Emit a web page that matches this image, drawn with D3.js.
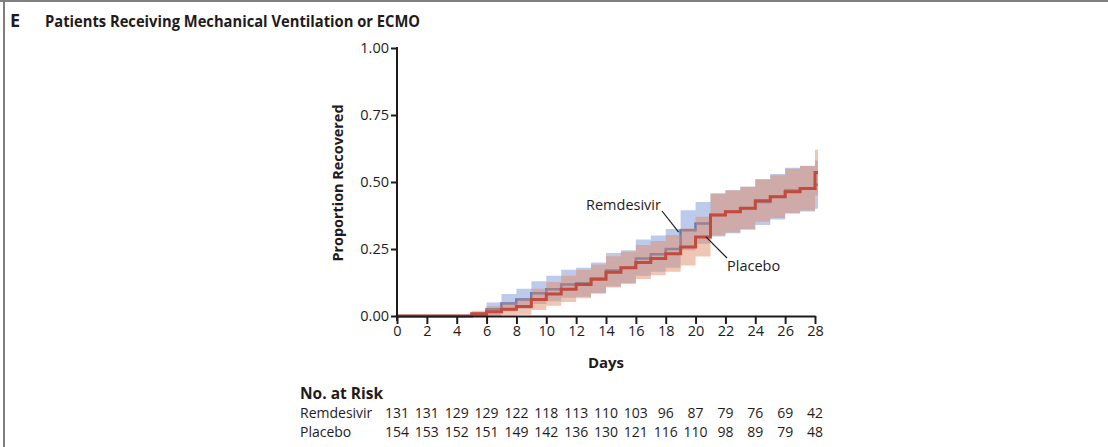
<!DOCTYPE html>
<html>
<head>
<meta charset="utf-8">
<script src="https://cdn.jsdelivr.net/npm/d3@7"></script>
<style>
  body { margin: 0; background: #fff; }
  text { font-family: "Open Sans", "Liberation Sans", Arial, sans-serif; fill: #1f1b1c; }
</style>
</head>
<body>
<div id="chart"></div>
<script>
// days of follow-up (steps start at each day)
const days = d3.range(0, 29);
const xTicks = d3.range(0, 29, 2);
const yTicks = [0, 0.25, 0.5, 0.75, 1];

// placebo (red) estimate and confidence band
const placeboEst = [0,0,0,0,0,.008,.016,.025,.035,.062,.082,.10,.118,.137,.163,.18,.20,.215,.232,.257,.295,.377,.389,.402,.43,.445,.464,.476,.535];
const placeboLo  = [0,0,0,0,0,0,0,.003,.005,.022,.038,.052,.066,.084,.106,.122,.138,.152,.165,.188,.222,.3,.312,.325,.352,.366,.382,.394,.45];
const placeboHi  = [0,0,0,0,0,.02,.036,.05,.065,.102,.127,.15,.173,.192,.223,.24,.265,.28,.302,.327,.37,.457,.469,.482,.51,.525,.549,.561,.62];

// remdesivir (blue) estimate and confidence band
const remdEst = [0,0,0,0,0,.005,.025,.047,.062,.085,.10,.118,.122,.14,.17,.18,.215,.23,.25,.32,.345,.377,.389,.402,.425,.445,.468,.475,.49];
const remdLo  = [0,0,0,0,0,0,.003,.017,.027,.045,.055,.068,.072,.085,.11,.12,.15,.165,.18,.245,.27,.297,.309,.322,.34,.36,.383,.39,.40];
const remdHi  = [0,0,0,0,0,.015,.05,.082,.102,.13,.15,.173,.18,.2,.235,.245,.285,.3,.325,.395,.425,.457,.469,.482,.51,.53,.553,.56,.58];

// number at risk table
const riskDays = d3.range(0, 29, 2);
const riskRemd = [131,131,129,129,122,118,113,110,103,96,87,79,76,69,42];
const riskPlacebo = [154,153,152,151,149,142,136,130,121,116,110,98,89,79,48];

const width = 1108, height = 447;

const svg = d3.select("#chart").append("svg")
  .attr("width", width)
  .attr("height", height);

// panel frame (top and left rule)
svg.append("line").attr("x1", 0).attr("x2", width).attr("y1", 1).attr("y2", 1)
  .attr("stroke", "#7f7f7f").attr("stroke-width", 2);
svg.append("line").attr("x1", 4).attr("x2", 4).attr("y1", 0).attr("y2", height)
  .attr("stroke", "#7f7f7f").attr("stroke-width", 2);

// title
svg.append("text").attr("x", 10).attr("y", 27)
  .attr("font-size", 18).attr("font-weight", "bold").text("E");
svg.append("text").attr("x", 45).attr("y", 27)
  .attr("font-size", 16.5).attr("font-weight", "bold")
  .attr("textLength", 375).attr("lengthAdjust", "spacingAndGlyphs")
  .text("Patients Receiving Mechanical Ventilation or ECMO");

let x = d3.scaleLinear().domain([0, 28]).range([397, 815]);
let y = d3.scaleLinear().domain([0, 1]).range([316, 48]);

function series(vals) {
  let pts = days.map((d, i) => ({ d: d, v: vals[i] }));
  pts.push({ d: 28.2, v: vals[vals.length - 1] });
  return pts;
}
function band(lo, hi) {
  let pts = days.map((d, i) => ({ d: d, lo: lo[i], hi: hi[i] }));
  pts.push({ d: 28.2, lo: lo[lo.length - 1], hi: hi[hi.length - 1] });
  return pts;
}

let area = d3.area().curve(d3.curveStepAfter)
  .x(d => x(d.d)).y0(d => y(d.lo)).y1(d => y(d.hi));
let line = d3.line().curve(d3.curveStepAfter)
  .x(d => x(d.d)).y(d => y(d.v));

// remdesivir band + line, then placebo on top
svg.append("path").datum(band(remdLo, remdHi))
  .attr("d", area).attr("fill", "#9fb4e3").attr("fill-opacity", 0.7);
svg.append("path").datum(series(remdEst))
  .attr("d", line).attr("fill", "none").attr("stroke", "#5674bd").attr("stroke-width", 2.5);
svg.append("path").datum(band(placeboLo, placeboHi))
  .attr("d", area).attr("fill", "#e08c68").attr("fill-opacity", 0.5);
svg.append("path").datum(series(placeboEst))
  .attr("d", line).attr("fill", "none").attr("stroke", "#c44a3c").attr("stroke-width", 3);

// axes
let xAxis = d3.axisBottom(x).tickValues(xTicks).tickSize(8).tickSizeOuter(0).tickPadding(2);
let yAxis = d3.axisLeft(y).tickValues(yTicks).tickSize(6).tickSizeOuter(0).tickPadding(2)
  .tickFormat(d3.format(".2f"));

let gx = svg.append("g").attr("transform", "translate(0,316)").call(xAxis);
let gy = svg.append("g").attr("transform", "translate(397,0)").call(yAxis);
[gx, gy].forEach(g => {
  g.select(".domain").attr("stroke", "#1f1b1c").attr("stroke-width", 2);
  g.selectAll(".tick line").attr("stroke", "#1f1b1c").attr("stroke-width", 2);
  g.selectAll(".tick text").attr("font-size", 14.5).attr("fill", "#1f1b1c")
    .style("font-family", "'Open Sans', 'Liberation Sans', sans-serif");
});
gy.select(".domain").attr("d", "M0,47V321");

// axis titles
svg.append("text").attr("x", 606).attr("y", 368)
  .attr("text-anchor", "middle").attr("font-size", 15).attr("font-weight", "bold").text("Days");
svg.append("text").attr("transform", "translate(343,183) rotate(-90)")
  .attr("text-anchor", "middle").attr("font-size", 15).attr("font-weight", "bold")
  .attr("textLength", 157).attr("lengthAdjust", "spacingAndGlyphs")
  .text("Proportion Recovered");

// curve labels with leader lines
svg.append("text").attr("x", 586).attr("y", 210).attr("font-size", 14.5).text("Remdesivir");
svg.append("line").attr("x1", 662).attr("y1", 211).attr("x2", x(19) - 2).attr("y2", y(0.32) + 2)
  .attr("stroke", "#1f1b1c").attr("stroke-width", 1.2);
svg.append("text").attr("x", 727).attr("y", 271).attr("font-size", 14.5).text("Placebo");
svg.append("line").attr("x1", x(20.7)).attr("y1", y(0.295)).attr("x2", 727).attr("y2", 258)
  .attr("stroke", "#1f1b1c").attr("stroke-width", 1.2);

// number at risk
svg.append("text").attr("x", 300).attr("y", 399)
  .attr("font-size", 15.5).attr("font-weight", "bold").text("No. at Risk");
svg.append("text").attr("x", 300).attr("y", 418).attr("font-size", 14).text("Remdesivir");
svg.append("text").attr("x", 300).attr("y", 437).attr("font-size", 14).text("Placebo");

svg.selectAll(".riskR").data(riskRemd).enter().append("text")
  .attr("x", (d, i) => x(riskDays[i])).attr("y", 418)
  .attr("text-anchor", "middle").attr("font-size", 14).text(d => d);
svg.selectAll(".riskP").data(riskPlacebo).enter().append("text")
  .attr("x", (d, i) => x(riskDays[i])).attr("y", 437)
  .attr("text-anchor", "middle").attr("font-size", 14).text(d => d);
</script>
</body>
</html>
